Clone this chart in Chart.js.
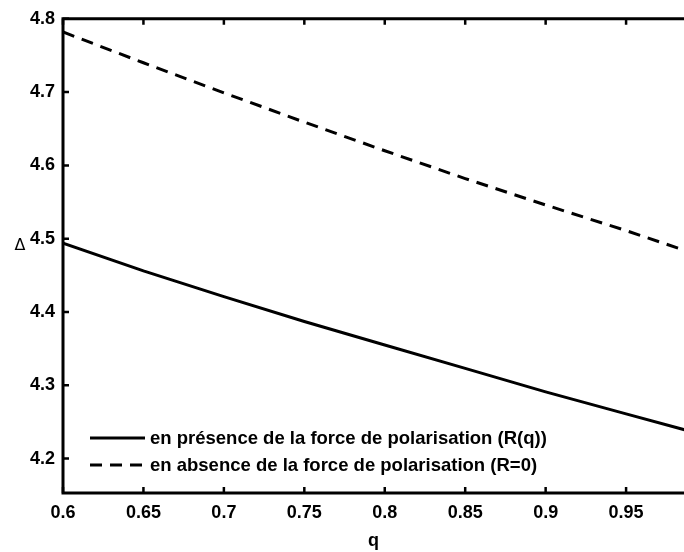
<!DOCTYPE html>
<html>
<head>
<meta charset="utf-8">
<script src="https://cdn.jsdelivr.net/npm/chart.js@4/dist/chart.umd.min.js"></script>
<style>
  html, body { margin: 0; padding: 0; background: #fff; }
  #wrap { width: 684px; height: 552px; }
</style>
</head>
<body>
<div id="wrap"><canvas id="deltaChart"></canvas></div>
<script>
// Données
const qValues = [0.6, 0.65, 0.7, 0.75, 0.8, 0.85, 0.9, 0.95, 1.0];
const deltaAvecPolarisation = [4.494, 4.456, 4.421, 4.387, 4.355, 4.323, 4.291, 4.261, 4.231];
const deltaSansPolarisation = [4.782, 4.740, 4.699, 4.659, 4.620, 4.582, 4.546, 4.511, 4.474];
const xTicks = [0.6, 0.65, 0.7, 0.75, 0.8, 0.85, 0.9, 0.95];
const yTicks = [4.2, 4.3, 4.4, 4.5, 4.6, 4.7, 4.8];
const legendLabels = [
    'en présence de la force de polarisation (R(q))',
    'en absence de la force de polarisation (R=0)'
];

Chart.defaults.font.family = '"Liberation Sans", Arial, sans-serif';
Chart.defaults.color = '#000';

const POLICE_LEGENDE = 'bold 18.5px "Liberation Sans", Arial, sans-serif';

// Cadre, graduations intérieures, légende et symbole Δ
const cadrePlugin = {
    id: 'cadre',
    afterDatasetsDraw(chart) {
        const { ctx, chartArea: a, scales: { x, y } } = chart;
        ctx.save();
        ctx.strokeStyle = '#000';
        ctx.lineCap = 'butt';

        // cadre
        ctx.lineWidth = 3;
        ctx.beginPath();
        ctx.moveTo(a.right + 2, a.top);
        ctx.lineTo(a.left, a.top);
        ctx.lineTo(a.left, a.bottom);
        ctx.lineTo(a.right + 2, a.bottom);
        ctx.stroke();

        // graduations
        ctx.lineWidth = 2.5;
        ctx.beginPath();
        xTicks.forEach(v => {
            const px = x.getPixelForValue(v);
            ctx.moveTo(px, a.bottom); ctx.lineTo(px, a.bottom - 6);
            ctx.moveTo(px, a.top); ctx.lineTo(px, a.top + 6);
        });
        yTicks.forEach(v => {
            const py = y.getPixelForValue(v);
            ctx.moveTo(a.left, py); ctx.lineTo(a.left + 6, py);
        });
        ctx.stroke();

        // légende
        ctx.font = POLICE_LEGENDE;
        ctx.fillStyle = '#000';
        ctx.textBaseline = 'middle';
        ctx.textAlign = 'left';
        chart.data.datasets.forEach((ds, i) => {
            const ly = a.bottom - 55 + i * 27;
            ctx.lineWidth = ds.borderWidth;
            ctx.setLineDash(ds.borderDash || []);
            ctx.beginPath();
            ctx.moveTo(a.left + 27, ly);
            ctx.lineTo(a.left + 82, ly);
            ctx.stroke();
            ctx.setLineDash([]);
            ctx.fillText(ds.label, a.left + 87, ly + 1);
        });

        // étiquette de l'axe y
        ctx.font = '16px "DejaVu Sans", sans-serif';
        ctx.textAlign = 'center';
        ctx.fillText('Δ', a.left - 43, (a.top + a.bottom) / 2 - 10);
        ctx.restore();
    }
};

const ctx = document.getElementById('deltaChart').getContext('2d');
new Chart(ctx, {
    type: 'line',
    data: {
        datasets: [{
            label: legendLabels[0],
            data: qValues.map((q, i) => ({ x: q, y: deltaAvecPolarisation[i] })),
            borderColor: '#000',
            borderWidth: 3,
            pointRadius: 0,
            tension: 0
        }, {
            label: legendLabels[1],
            data: qValues.map((q, i) => ({ x: q, y: deltaSansPolarisation[i] })),
            borderColor: '#000',
            borderWidth: 3,
            borderDash: [12, 8],
            pointRadius: 0,
            tension: 0
        }]
    },
    options: {
        responsive: true,
        maintainAspectRatio: false,
        animation: false,
        layout: { padding: { top: 14, right: 0, left: 0, bottom: 0 } },
        plugins: {
            legend: { display: false },
            tooltip: { enabled: false }
        },
        scales: {
            x: {
                type: 'linear',
                min: 0.6,
                max: 0.986,
                grid: { display: false, drawTicks: false },
                border: { display: false },
                afterBuildTicks: scale => { scale.ticks = xTicks.map(v => ({ value: v })); },
                afterFit: scale => { scale.height = 59; },
                ticks: {
                    padding: 9,
                    maxRotation: 0,
                    font: { size: 18, weight: 'bold' },
                    callback: v => String(+v.toFixed(2))
                },
                title: {
                    display: true,
                    text: 'q',
                    padding: 0,
                    font: { size: 18, weight: 'bold' }
                }
            },
            y: {
                type: 'linear',
                min: 4.153,
                max: 4.8,
                grid: { display: false, drawTicks: false },
                border: { display: false },
                afterBuildTicks: scale => { scale.ticks = yTicks.map(v => ({ value: v })); },
                afterFit: scale => { scale.width = 63; },
                ticks: {
                    padding: 8,
                    font: { size: 18, weight: 'bold' },
                    callback: v => String(+v.toFixed(1))
                }
            }
        }
    },
    plugins: [cadrePlugin]
});
</script>
</body>
</html>
